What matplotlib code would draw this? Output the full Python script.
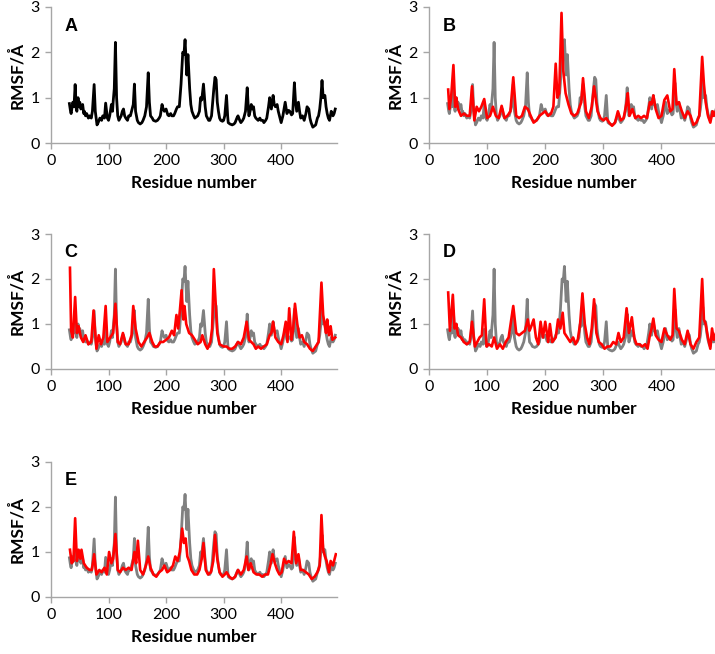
import matplotlib
matplotlib.use("Agg")
import matplotlib.pyplot as plt

# reference RMSF (panel A, grey in B-E): (residue, RMSF)
ref_pts = [(32, 0.87), (34, 0.7), (35, 0.65), (38, 0.9), (40, 0.8), (42, 1.29), (44, 0.75), (45, 0.7),
           (47, 1.0), (49, 0.8), (50, 0.9), (52, 0.75), (55, 0.85), (57, 0.65), (58, 0.7), (60, 0.6),
           (62, 0.65), (65, 0.55), (67, 0.6), (70, 0.55), (72, 0.7), (75, 1.29), (77, 0.7), (80, 0.4),
           (82, 0.45), (85, 0.55), (88, 0.5), (90, 0.6), (93, 0.55), (95, 0.88), (98, 0.55), (100, 0.5),
           (102, 0.6), (105, 0.85), (107, 0.7), (108, 0.9), (110, 1.2), (112, 2.22), (114, 1.0),
           (116, 0.6), (118, 0.5), (120, 0.55), (122, 0.6), (124, 0.7), (126, 0.75), (128, 0.6),
           (130, 0.55), (133, 0.5), (135, 0.6), (138, 0.6), (140, 0.7), (143, 0.85), (145, 1.3),
           (147, 0.7), (150, 0.5), (152, 0.45), (155, 0.42), (158, 0.45), (160, 0.5), (163, 0.6),
           (166, 0.8), (169, 1.55), (171, 0.9), (173, 0.6), (176, 0.55), (178, 0.5), (182, 0.48),
           (185, 0.5), (188, 0.55), (190, 0.6), (193, 0.85), (195, 0.75), (197, 0.7), (200, 0.75),
           (203, 0.62), (205, 0.6), (208, 0.65), (210, 0.6), (213, 0.6), (215, 0.65), (218, 0.75),
           (220, 0.8), (223, 0.8), (226, 1.3), (229, 2.0), (231, 1.95), (233, 2.28), (236, 1.5),
           (238, 1.95), (241, 1.2), (243, 0.85), (245, 0.7), (248, 0.6), (250, 0.55), (253, 0.58),
           (255, 0.6), (258, 0.7), (260, 1.0), (262, 0.95), (265, 1.3), (268, 0.8), (270, 0.6),
           (272, 0.55), (274, 0.5), (276, 0.5), (279, 0.6), (281, 0.9), (283, 1.2), (285, 1.45),
           (287, 1.4), (289, 0.9), (291, 0.7), (293, 0.55), (295, 0.5), (298, 0.48), (300, 0.5),
           (302, 0.6), (305, 1.05), (307, 0.6), (308, 0.45), (311, 0.42), (315, 0.4), (318, 0.42),
           (320, 0.45), (323, 0.55), (325, 0.6), (328, 0.5), (330, 0.45), (333, 0.5), (335, 0.55),
           (338, 0.7), (341, 1.22), (343, 0.75), (344, 0.6), (346, 0.7), (348, 0.85), (350, 0.75),
           (352, 0.8), (354, 0.6), (356, 0.55), (360, 0.5), (363, 0.55), (365, 0.5), (368, 0.5),
           (370, 0.45), (373, 0.5), (375, 0.55), (378, 0.8), (380, 1.0), (383, 0.75), (386, 1.05),
           (388, 0.85), (390, 0.8), (393, 0.85), (395, 0.7), (397, 0.6), (400, 0.45), (403, 0.6),
           (407, 0.9), (410, 0.65), (413, 0.72), (415, 0.7), (418, 0.62), (420, 0.65), (423, 1.33),
           (425, 0.9), (427, 0.7), (430, 0.9), (432, 0.7), (434, 0.55), (437, 0.6), (440, 0.5),
           (443, 0.65), (445, 0.8), (448, 0.75), (450, 0.55), (452, 0.45), (455, 0.35), (458, 0.38),
           (460, 0.4), (463, 0.55), (465, 0.6), (467, 0.75), (469, 1.0), (471, 1.38), (473, 1.0),
           (474, 1.05), (476, 1.05), (478, 0.8), (480, 0.65), (482, 0.55), (484, 0.5), (487, 0.7),
           (490, 0.6), (492, 0.65), (494, 0.75)]

b_pts = [(33, 1.18), (35, 0.75), (38, 1.0), (42, 1.72), (45, 0.8), (47, 1.0), (50, 0.75), (55, 0.6),
         (60, 0.65), (65, 0.6), (70, 0.6), (74, 1.25), (78, 0.5), (82, 0.8), (86, 0.7), (90, 0.8),
         (95, 0.97), (100, 0.55), (105, 0.6), (110, 0.8), (115, 0.6), (120, 0.55), (125, 0.82),
         (130, 0.55), (135, 0.6), (140, 0.7), (145, 1.45), (150, 0.6), (155, 0.55), (160, 0.6),
         (165, 0.8), (170, 0.75), (175, 0.6), (180, 0.45), (185, 0.5), (190, 0.6), (195, 0.65),
         (200, 0.7), (205, 0.6), (210, 0.65), (214, 0.8), (218, 1.75), (221, 1.0), (224, 1.1),
         (228, 2.87), (231, 1.6), (235, 1.1), (240, 0.85), (245, 0.65), (250, 0.6), (255, 0.65),
         (262, 0.9), (265, 1.43), (270, 0.7), (275, 0.55), (280, 0.8), (284, 1.25), (290, 0.7),
         (295, 0.55), (300, 0.5), (305, 0.55), (310, 0.45), (315, 0.38), (320, 0.45), (325, 0.7),
         (330, 0.5), (335, 0.55), (340, 0.9), (342, 1.1), (345, 0.6), (350, 0.75), (355, 0.55),
         (360, 0.6), (365, 0.55), (370, 0.6), (375, 0.55), (380, 0.9), (383, 0.85), (386, 1.05),
         (390, 0.75), (395, 0.55), (400, 0.6), (405, 0.95), (410, 1.05), (415, 0.7), (419, 0.75),
         (422, 1.63), (426, 0.85), (430, 0.9), (435, 0.7), (440, 0.55), (445, 0.7), (450, 0.6),
         (455, 0.4), (460, 0.45), (465, 0.6), (470, 1.9), (473, 1.3), (476, 0.9), (480, 0.6),
         (484, 0.45), (488, 0.7), (490, 0.6), (495, 0.75)]

c_pts = [(33, 2.25), (35, 0.85), (38, 0.7), (42, 1.6), (45, 0.8), (48, 0.95), (52, 0.7), (56, 0.6),
         (60, 0.75), (65, 0.55), (70, 0.6), (74, 1.3), (79, 0.45), (83, 0.75), (87, 0.55), (91, 0.7),
         (95, 1.4), (98, 0.6), (103, 0.7), (108, 0.8), (112, 1.45), (116, 0.6), (120, 0.55),
         (125, 0.8), (130, 0.55), (135, 0.55), (140, 0.75), (143, 1.4), (147, 0.9), (152, 0.6),
         (157, 0.5), (162, 0.6), (167, 0.7), (171, 0.8), (176, 0.6), (180, 0.5), (185, 0.5),
         (190, 0.6), (195, 0.6), (200, 0.65), (205, 0.7), (210, 0.85), (214, 0.75), (218, 1.2),
         (221, 0.9), (224, 1.3), (227, 1.75), (230, 1.1), (232, 1.4), (235, 1.0), (240, 0.8),
         (245, 0.75), (250, 0.65), (255, 0.55), (260, 0.6), (263, 0.75), (268, 0.55), (272, 0.45),
         (277, 0.6), (280, 0.9), (283, 2.22), (286, 1.5), (289, 0.8), (293, 0.55), (300, 0.5),
         (305, 0.5), (310, 0.45), (315, 0.45), (320, 0.5), (325, 0.6), (330, 0.55), (335, 0.7),
         (340, 1.05), (344, 0.65), (348, 0.6), (352, 0.55), (356, 0.45), (360, 0.5), (365, 0.45),
         (370, 0.5), (375, 0.55), (380, 0.75), (383, 0.8), (386, 1.05), (390, 0.7), (395, 0.6),
         (400, 0.55), (404, 0.75), (408, 1.05), (411, 0.6), (414, 1.35), (418, 0.65), (421, 0.9),
         (424, 1.45), (428, 1.0), (432, 0.7), (436, 0.75), (440, 0.6), (445, 0.55), (450, 0.45),
         (455, 0.4), (460, 0.5), (465, 0.6), (470, 1.92), (473, 1.2), (476, 0.95), (478, 0.8),
         (480, 1.1), (483, 0.75), (486, 0.95), (489, 0.65), (494, 0.7)]

d_pts = [(33, 1.7), (36, 0.85), (41, 1.65), (44, 0.9), (47, 1.0), (50, 0.75), (55, 0.7), (60, 0.6),
         (65, 0.55), (70, 0.6), (74, 1.05), (79, 0.5), (83, 0.6), (87, 0.7), (91, 0.75), (95, 1.55),
         (99, 0.5), (103, 0.55), (108, 0.5), (112, 0.7), (117, 0.45), (122, 0.55), (127, 0.45),
         (132, 0.6), (137, 0.7), (145, 1.4), (150, 0.8), (155, 0.75), (160, 0.8), (165, 0.85),
         (170, 1.1), (173, 0.85), (176, 0.95), (180, 1.1), (184, 0.7), (188, 0.55), (192, 1.05),
         (196, 0.7), (200, 1.05), (205, 0.6), (208, 1.0), (212, 0.6), (218, 0.7), (222, 1.1),
         (226, 0.9), (230, 1.25), (233, 0.8), (238, 0.7), (243, 0.6), (248, 0.7), (252, 0.55),
         (256, 0.65), (260, 1.0), (264, 1.68), (268, 1.0), (272, 0.7), (276, 0.55), (280, 0.9),
         (284, 1.55), (288, 0.8), (292, 0.6), (297, 0.55), (302, 0.45), (307, 0.5), (312, 0.5),
         (317, 0.6), (322, 0.55), (326, 0.8), (330, 0.6), (335, 0.7), (340, 1.35), (344, 0.8),
         (349, 1.15), (353, 0.7), (357, 0.55), (362, 0.55), (367, 0.5), (372, 0.55), (376, 0.45),
         (380, 0.75), (383, 0.9), (386, 1.12), (390, 0.75), (395, 0.65), (400, 0.6), (405, 0.9),
         (410, 0.75), (415, 0.65), (419, 0.75), (422, 1.78), (426, 0.9), (430, 0.85), (435, 0.65),
         (440, 0.55), (445, 0.85), (450, 0.55), (455, 0.45), (460, 0.6), (465, 0.7), (470, 2.0),
         (473, 1.1), (476, 1.0), (480, 0.7), (484, 0.45), (487, 0.9), (490, 0.65), (495, 0.85)]

e_pts = [(33, 1.05), (36, 0.75), (39, 0.8), (42, 1.75), (45, 0.8), (48, 1.05), (51, 0.85), (53, 1.05),
         (57, 0.75), (62, 0.65), (67, 0.6), (71, 0.6), (75, 0.95), (79, 0.5), (84, 0.6), (88, 0.55),
         (93, 0.65), (97, 0.5), (101, 1.0), (105, 0.75), (108, 0.85), (112, 1.4), (116, 0.6),
         (120, 0.55), (125, 0.65), (130, 0.6), (135, 0.65), (140, 0.6), (145, 1.0), (148, 0.75),
         (151, 1.25), (155, 0.6), (160, 0.5), (165, 0.7), (169, 0.9), (173, 0.65), (178, 0.5),
         (183, 0.45), (188, 0.55), (193, 0.6), (197, 0.7), (202, 0.55), (207, 0.6), (212, 0.7),
         (216, 0.9), (220, 0.8), (224, 1.0), (228, 1.52), (231, 1.2), (234, 1.3), (237, 0.9),
         (240, 0.8), (244, 0.6), (249, 0.5), (254, 0.5), (258, 0.6), (262, 0.85), (265, 1.2),
         (269, 0.6), (273, 0.5), (278, 0.55), (282, 0.8), (285, 1.38), (289, 0.85), (293, 0.55),
         (298, 0.45), (302, 0.5), (305, 0.55), (310, 0.45), (315, 0.4), (320, 0.45), (325, 0.6),
         (330, 0.5), (335, 0.6), (340, 0.9), (343, 0.6), (347, 0.75), (352, 0.55), (357, 0.5),
         (362, 0.5), (367, 0.45), (372, 0.5), (377, 0.5), (381, 0.7), (385, 0.95), (389, 0.75),
         (393, 0.6), (397, 0.5), (401, 0.55), (405, 0.85), (409, 0.75), (413, 0.8), (418, 0.75),
         (422, 1.45), (426, 0.75), (430, 0.95), (434, 0.6), (438, 0.6), (443, 0.55), (448, 0.5),
         (453, 0.4), (458, 0.45), (463, 0.55), (467, 0.7), (470, 1.82), (473, 1.05), (476, 0.9),
         (479, 0.8), (483, 0.55), (486, 0.8), (490, 0.7), (495, 0.95)]

panel_letters = ["A", "B", "C", "D", "E"]
mutants = [None, b_pts, c_pts, d_pts, e_pts]

# axes positions in figure fraction [left, bottom, width, height]
positions = [[0.0713, 0.7813, 0.40, 0.208],
             [0.600, 0.7813, 0.404, 0.208],
             [0.0713, 0.4358, 0.40, 0.2064],
             [0.600, 0.4358, 0.404, 0.2064],
             [0.0713, 0.0872, 0.40, 0.2064]]

fig = plt.figure(figsize=(7.15, 6.54), dpi=100)
axis_grey = "#a6a6a6"

for letter, pts, pos in zip(panel_letters, mutants, positions):
    ax = fig.add_axes(pos)
    rx = [p[0] for p in ref_pts]
    ry = [p[1] for p in ref_pts]
    if pts is None:
        ax.plot(rx, ry, color="black", lw=2.0)
    else:
        ax.plot(rx, ry, color="#808080", lw=2.0)
        ax.plot([p[0] for p in pts], [p[1] for p in pts], color="#ff0000", lw=1.9)
    ax.set_xlim(0, 497)
    ax.set_ylim(0, 3)
    ax.set_xticks([0, 100, 200, 300, 400])
    ax.set_yticks([0, 1, 2, 3])
    for s in ["top", "right"]:
        ax.spines[s].set_visible(False)
    for s in ["left", "bottom"]:
        ax.spines[s].set_color(axis_grey)
        ax.spines[s].set_linewidth(1.0)
    ax.tick_params(direction="out", length=4, width=1.0, color=axis_grey,
                   labelsize=11.5, pad=4)
    for lab in ax.get_xticklabels() + ax.get_yticklabels():
        lab.set_fontfamily("Lato")
    ax.set_xlabel("Residue number", fontsize=12.5, fontweight="bold",
                  fontfamily="Lato", labelpad=5)
    ax.set_ylabel("RMSF/Å", fontsize=12.5, fontweight="bold",
                  fontfamily="Lato", labelpad=4)
    ax.text(0.048, 0.86, letter, transform=ax.transAxes, fontsize=13,
            fontweight="bold", fontfamily="Liberation Sans", va="center")

fig.savefig("out.png", dpi=100)
